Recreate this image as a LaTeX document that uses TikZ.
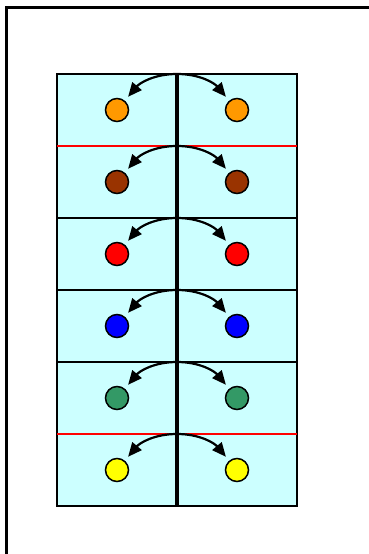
\documentclass[tikz,border=0pt]{standalone}
\usetikzlibrary{arrows.meta}
\definecolor{cellfill}{HTML}{CCFFFF}
\definecolor{corange}{HTML}{FF9900}
\definecolor{cbrown}{HTML}{993300}
\definecolor{cred}{HTML}{FF0000}
\definecolor{cblue}{HTML}{0000FF}
\definecolor{cgreen}{HTML}{339966}
\definecolor{cyellow}{HTML}{FFFF00}
\tikzset{
  ball/.style={circle,draw=black,line width=1.5pt,minimum size=23pt,inner sep=0pt},
  swing/.style={line width=2.2pt,-{Triangle[length=14pt,width=12pt]},shorten >=5pt},
  divider/.style={line width=1.4pt},
}
\begin{document}
\begin{tikzpicture}[x=1pt,y=-1pt]
\useasboundingbox (0,0) rectangle (369,554);
\fill[white] (0,0) rectangle (369,554);
\draw[line width=2.2pt] (6.5,560) -- (6.5,7.5) -- (372,7.5);
\draw[fill=cellfill,line width=1.4pt] (57,74) rectangle (297,506);
\draw[divider,draw=red] (57,146) -- (297,146);
\draw[divider] (57,218) -- (297,218);
\draw[divider] (57,290) -- (297,290);
\draw[divider] (57,362) -- (297,362);
\draw[divider,draw=red] (57,434) -- (297,434);
\draw[line width=3.5pt] (177,74) -- (177,506);
\foreach \i/\c in {0/corange,1/cbrown,2/cred,3/cblue,4/cgreen,5/cyellow}{
  \coordinate (t\i) at (177,74+72*\i);
  \node[ball,fill=\c] (l\i) at (117,110+72*\i) {};
  \node[ball,fill=\c] (r\i) at (237,110+72*\i) {};
  \draw[swing] (t\i) to[out=180,in=50] (l\i);
  \draw[swing] (t\i) to[out=0,in=130] (r\i);
}
\end{tikzpicture}
\end{document}
